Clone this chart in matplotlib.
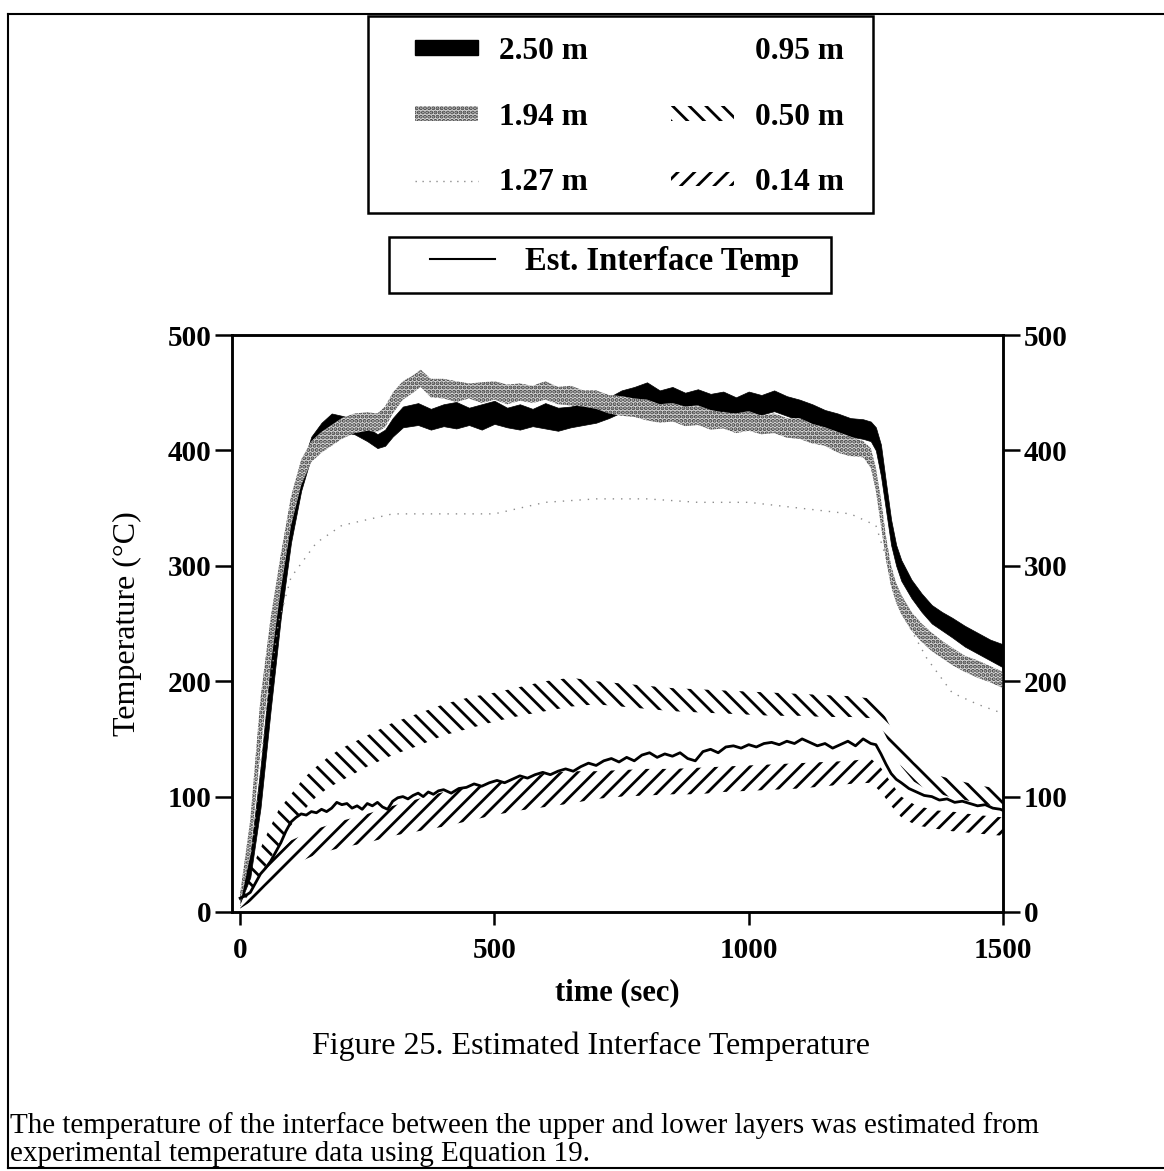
import matplotlib
matplotlib.use("Agg")
import matplotlib.pyplot as plt
from matplotlib.patches import Patch, Rectangle
from matplotlib.lines import Line2D

plt.rcParams['font.family'] = ['Liberation Serif', 'DejaVu Serif']
plt.rcParams['hatch.linewidth'] = 2.0

# 2.50 m thermocouple (black band)
t_250 = [0, 20, 40, 60, 80, 100, 120, 140, 160, 180, 200, 225, 250, 270, 285, 300, 320, 350,
         375, 400, 425, 450, 475, 500, 525, 550, 575, 600, 625, 650, 675, 700, 725, 750, 775,
         800, 825, 850, 875, 900, 925, 950, 975, 1000, 1025, 1050, 1075, 1100, 1125, 1150,
         1175, 1200, 1225, 1240, 1250, 1260, 1270, 1280, 1290, 1300, 1320, 1340, 1360, 1380,
         1400, 1425, 1450, 1475, 1500]
lo_250 = [8, 30, 90, 175, 255, 320, 365, 395, 408, 415, 416, 414, 408, 402, 404, 412, 420, 422,
          418, 421, 419, 422, 418, 423, 420, 418, 421, 419, 417, 420, 422, 424, 428, 433, 440,
          437, 436, 437, 435, 436, 432, 434, 430, 433, 431, 434, 430, 426, 422, 419,
          416, 412, 410, 408, 400, 378, 348, 318, 300, 287, 272, 260, 250, 244,
          238, 230, 224, 218, 212]
hi_250 = [16, 50, 125, 215, 290, 345, 385, 412, 424, 432, 430, 427, 420, 414, 418, 428, 438, 441,
          436, 440, 442, 437, 440, 443, 437, 440, 436, 441, 437, 438, 441, 440, 446, 452, 455,
          459, 452, 455, 450, 453, 449, 451, 446, 451, 448, 452, 447, 444, 440, 435,
          432, 428, 427, 425, 420, 405, 372, 340, 318, 305, 288, 276, 266, 260,
          255, 248, 242, 236, 232]

# 1.94 m thermocouple (grey speckled band)
t_194 = [0, 20, 40, 60, 80, 100, 120, 140, 160, 180, 200, 225, 250, 270, 285, 300, 320, 340,
         355, 375, 400, 425, 450, 475, 500, 525, 550, 575, 600, 625, 650, 675, 700, 725, 750,
         775, 800, 825, 850, 875, 900, 925, 950, 975, 1000, 1025, 1050, 1075, 1100, 1125,
         1150, 1175, 1200, 1225, 1240, 1250, 1260, 1270, 1280, 1290, 1300, 1320, 1340, 1360,
         1380, 1400, 1425, 1450, 1475, 1500]
lo_194 = [6, 50, 140, 215, 280, 335, 370, 390, 398, 404, 410, 415, 417, 416, 420, 432, 444, 450,
          455, 446, 445, 442, 445, 441, 444, 440, 443, 441, 444, 440, 439, 438, 436, 432, 430,
          429, 426, 424, 425, 421, 422, 418, 419, 415, 417, 414, 415, 411, 410, 406,
          404, 398, 395, 394, 385, 365, 335, 305, 282, 268, 258, 244, 234, 226,
          220, 214, 208, 203, 199, 194]
hi_194 = [16, 80, 185, 255, 310, 360, 392, 408, 416, 422, 428, 432, 433, 432, 438, 450, 460, 465,
          470, 462, 462, 460, 458, 459, 460, 457, 458, 456, 460, 455, 456, 452, 452, 448, 447,
          445, 444, 440, 441, 438, 439, 435, 433, 432, 434, 430, 432, 428, 428, 423,
          420, 416, 412, 408, 402, 385, 358, 325, 300, 285, 275, 260, 250, 242,
          235, 229, 222, 218, 213, 208]

# 1.27 m thermocouple (sparse dots)
t_127 = [0, 25, 50, 75, 100, 150, 200, 300, 400, 500, 600, 700, 800, 900, 1000, 1100, 1200,
         1250, 1275, 1300, 1350, 1400, 1450, 1500]
v_127 = [10, 60, 170, 250, 290, 320, 335, 345, 345, 345, 355, 358, 358, 355, 355, 350, 345,
         335, 300, 260, 220, 190, 180, 172]

# 0.50 m thermocouple (back-hatched band)
t_050 = [0, 25, 50, 75, 100, 125, 150, 175, 200, 250, 300, 350, 400, 450, 500, 550, 600, 650,
         700, 750, 800, 850, 900, 950, 1000, 1050, 1100, 1150, 1200, 1240, 1255, 1270, 1285,
         1300, 1325, 1350, 1400, 1450, 1500]
lo_050 = [5, 20, 40, 58, 75, 88, 100, 108, 114, 126, 136, 144, 153, 159, 165, 170, 174, 178,
          180, 178, 176, 174, 173, 172, 171, 170, 170, 169, 169, 168, 165, 152, 138,
          126, 113, 106, 99, 95, 90]
hi_050 = [15, 40, 65, 88, 102, 116, 126, 135, 142, 153, 164, 172, 180, 186, 190, 195, 200, 203,
          200, 198, 196, 194, 193, 192, 191, 190, 189, 188, 187, 185, 180, 168, 155,
          143, 130, 121, 115, 110, 106]

# 0.14 m thermocouple (forward-hatched band)
t_014 = [0, 25, 50, 75, 100, 150, 200, 250, 300, 350, 400, 450, 500, 550, 600, 650, 700, 750,
         800, 850, 900, 950, 1000, 1050, 1100, 1150, 1200, 1240, 1260, 1280, 1300, 1330, 1370,
         1400, 1450, 1500]
lo_014 = [3, 10, 22, 32, 40, 50, 56, 60, 66, 70, 74, 79, 84, 88, 91, 94, 98, 100,
          101, 102, 102, 104, 105, 106, 107, 109, 111, 112, 104, 92, 82, 75, 72,
          70, 68, 66]
hi_014 = [10, 22, 40, 52, 62, 72, 79, 85, 92, 98, 104, 108, 112, 116, 120, 122, 122, 123,
          124, 124, 125, 126, 127, 128, 129, 130, 131, 133, 125, 112, 100, 92, 88,
          87, 84, 82]

# estimated interface temperature (thin line)
t_int = [0, 10, 20, 30, 40, 50, 60, 70, 80, 90, 100, 110, 120, 130, 140, 150, 160, 170, 180,
         190, 200, 210, 220, 230, 240, 250, 260, 270, 280, 290, 300, 310, 320, 330, 340, 350,
         360, 370, 380, 390, 400, 415, 430, 445, 460, 475, 490, 505, 520, 535, 550, 565, 580,
         595, 610, 625, 640, 655, 670, 685, 700, 715, 730, 745, 760, 775, 790, 805, 820, 835,
         850, 865, 880, 895, 910, 925, 940, 955, 970, 985, 1000, 1015, 1030, 1045, 1060, 1075,
         1090, 1105, 1120, 1135, 1150, 1165, 1180, 1195, 1210, 1225, 1240, 1250, 1260, 1270,
         1280, 1290, 1300, 1315, 1330, 1345, 1360, 1375, 1390, 1405, 1420, 1435, 1450, 1465,
         1480, 1495, 1500]
v_int = [12, 14, 17, 25, 33, 38, 44, 52, 60, 70, 78, 82, 85, 84, 87, 86, 89, 87, 90,
         95, 93, 94, 90, 92, 89, 94, 92, 95, 91, 89, 96, 99, 100, 98, 101, 103,
         100, 104, 102, 105, 106, 103, 107, 108, 111, 109, 112, 114, 112, 115, 118, 116, 119,
         121, 119, 122, 124, 122, 126, 129, 127, 131, 133, 130, 134, 131, 136, 138, 134, 137,
         135, 138, 133, 131, 139, 141, 138, 143, 144, 142, 145, 143, 146, 147, 145, 148,
         146, 150, 147, 144, 146, 142, 145, 148, 144, 150, 146, 145, 137, 128,
         120, 115, 112, 107, 104, 101, 100, 97, 98, 95, 96, 94, 92, 93,
         90, 89, 88]

labels = ['2.50 m', '1.94 m', '1.27 m', '0.95 m', '0.50 m', '0.14 m']
x_ticks = [0, 500, 1000, 1500]
y_ticks = [0, 100, 200, 300, 400, 500]

W, H = 1164, 1171
fig = plt.figure(figsize=(W / 100, H / 100), dpi=100)
ax = fig.add_axes([232 / W, 1 - 912 / H, (1003 - 232) / W, (912 - 335) / H])

ax.fill_between(t_250, lo_250, hi_250, facecolor='black', edgecolor='black', lw=0.5, zorder=2)
ax.fill_between(t_194, lo_194, hi_194, facecolor='0.85', edgecolor='0.25', hatch='....',
                lw=0, zorder=3)
ax.plot(t_127, v_127, color='0.55', lw=1.0, ls=(0, (1, 5)), zorder=2)
ax.fill_between(t_050, lo_050, hi_050, facecolor='none', edgecolor='black', hatch='\\\\',
                lw=0, zorder=2)
ax.fill_between(t_014, lo_014, hi_014, facecolor='none', edgecolor='black', hatch='//',
                lw=0, zorder=2)
ax.plot(t_int, v_int, color='black', lw=2.0, zorder=4)

ax.set_xlim(-16, 1500)
ax.set_ylim(0, 500)
ax.set_xticks(x_ticks)
ax.set_yticks(y_ticks)
for s in ax.spines.values():
    s.set_linewidth(1.8)
ax.tick_params(axis='y', direction='out', length=12, width=1.8, pad=3, labelsize=21)
ax.tick_params(axis='x', direction='out', length=9, width=1.8, pad=9, labelsize=21)
for lab in ax.get_xticklabels() + ax.get_yticklabels():
    lab.set_fontweight('bold')
ax.set_ylabel('Temperature (°C)', fontsize=23, labelpad=18)
ax.set_xlabel('time (sec)', fontsize=22, fontweight='bold', labelpad=10)

ax2 = ax.twinx()
ax2.set_ylim(0, 500)
ax2.set_yticks(y_ticks)
ax2.tick_params(axis='y', direction='out', length=12, width=1.8, pad=3, labelsize=21)
for lab in ax2.get_yticklabels():
    lab.set_fontweight('bold')
for s in ax2.spines.values():
    s.set_linewidth(1.8)

handles = [
    Patch(facecolor='black', edgecolor='black'),
    Patch(facecolor='0.85', edgecolor='0.25', hatch='....', lw=0),
    Line2D([], [], color='0.55', lw=1.0, ls=(0, (1, 4))),
    Patch(facecolor='none', edgecolor='none'),
    Patch(facecolor='none', edgecolor='black', hatch='\\\\', lw=0),
    Patch(facecolor='none', edgecolor='black', hatch='//', lw=0),
]
# boxes around the two legends
fig.add_artist(Rectangle((368 / W, 1 - 213 / H), (873 - 368) / W, (213 - 16) / H,
                         transform=fig.transFigure, facecolor='white', edgecolor='black',
                         lw=1.8, zorder=1))
fig.add_artist(Rectangle((389 / W, 1 - 293 / H), (831 - 389) / W, (293 - 237) / H,
                         transform=fig.transFigure, facecolor='white', edgecolor='black',
                         lw=1.8, zorder=1))

fig.legend(handles, labels, ncol=2, loc='upper left', bbox_to_anchor=(415 / W, 1 - 37 / H),
           borderaxespad=0, borderpad=0, frameon=False, prop={'size': 22.5, 'weight': 'bold'},
           handlelength=2.0, handleheight=0.35, labelspacing=1.17, handletextpad=0.7,
           columnspacing=2.65)

fig.legend([Line2D([], [], color='black', lw=1.5)], ['Est. Interface Temp'],
           loc='upper left', bbox_to_anchor=(430 / W, 1 - 246 / H), borderaxespad=0,
           borderpad=0, frameon=False, prop={'size': 23.5, 'weight': 'bold'},
           handlelength=2.0, handletextpad=0.9)

# outer frame of the page
fig.add_artist(Line2D([8 / W, 8 / W], [1 - 14 / H, 1 - 1168 / H], color='black', lw=1.5))
fig.add_artist(Line2D([8 / W, 1.0], [1 - 14 / H, 1 - 14 / H], color='black', lw=1.5))
fig.add_artist(Line2D([8 / W, 1.0], [1 - 1168 / H, 1 - 1168 / H], color='black', lw=1.5))

fig.text(591 / W, 1 - 1046 / H, 'Figure 25. Estimated Interface Temperature', fontsize=23,
         ha='center', va='center')
fig.text(10 / W, 1 - 1126 / H,
         'The temperature of the interface between the upper and lower layers was estimated from',
         fontsize=21, ha='left', va='center')
fig.text(10 / W, 1 - 1154 / H, 'experimental temperature data using Equation 19.',
         fontsize=21, ha='left', va='center')

fig.savefig('out.png', dpi=100)
